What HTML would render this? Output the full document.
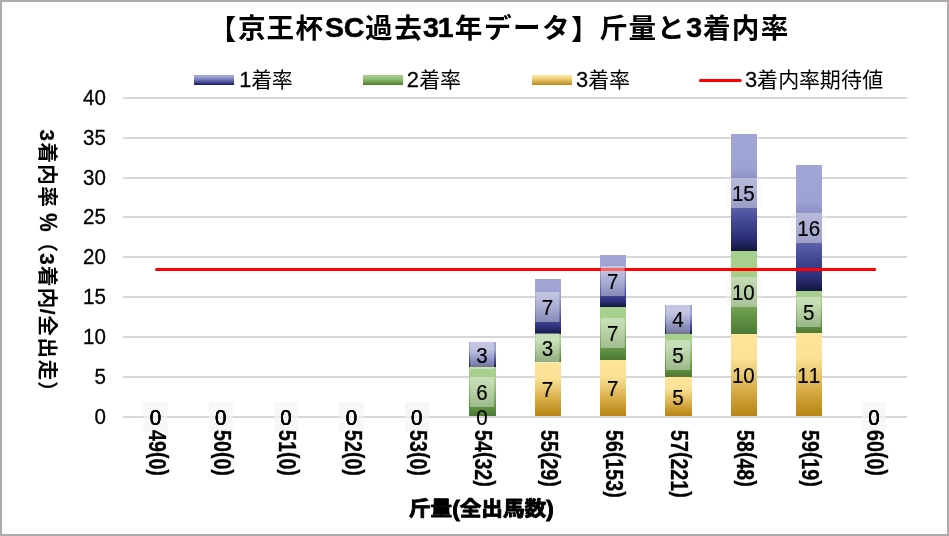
<!DOCTYPE html>
<html lang="ja"><head><meta charset="utf-8"><title>chart</title>
<style>
html,body{margin:0;padding:0;background:#fff;}
body{width:949px;height:536px;overflow:hidden;font-family:"Liberation Sans",sans-serif;}
svg{display:block;will-change:transform;font-family:"Liberation Sans","Noto Sans CJK JP",sans-serif;}
</style></head><body>
<svg width="949" height="536" viewBox="0 0 949 536">
<defs>
<linearGradient id="blue" x1="0" y1="0" x2="0" y2="1"><stop offset="0" stop-color="#a1a5d6"/><stop offset="0.28" stop-color="#9fa3d4"/><stop offset="0.5" stop-color="#787dbc"/><stop offset="0.7" stop-color="#4b509d"/><stop offset="0.88" stop-color="#2d317a"/><stop offset="1" stop-color="#14163e"/></linearGradient>
<linearGradient id="green" x1="0" y1="0" x2="0" y2="1"><stop offset="0" stop-color="#a9d18e"/><stop offset="0.27" stop-color="#a6cf8b"/><stop offset="0.5" stop-color="#8ab66c"/><stop offset="0.77" stop-color="#659647"/><stop offset="1" stop-color="#4c7a33"/></linearGradient>
<linearGradient id="gold" x1="0" y1="0" x2="0" y2="1"><stop offset="0" stop-color="#fee599"/><stop offset="0.3" stop-color="#fbe195"/><stop offset="0.5" stop-color="#e8c76f"/><stop offset="0.7" stop-color="#d7ab46"/><stop offset="0.85" stop-color="#c6962a"/><stop offset="1" stop-color="#b98614"/></linearGradient>
<linearGradient id="blueL" x1="0" y1="0" x2="0" y2="1"><stop offset="0" stop-color="#a3a6d7"/><stop offset="0.2" stop-color="#9da1d2"/><stop offset="0.5" stop-color="#6f73b3"/><stop offset="0.8" stop-color="#3c408f"/><stop offset="1" stop-color="#171a55"/></linearGradient>
<linearGradient id="greenL" x1="0" y1="0" x2="0" y2="1"><stop offset="0" stop-color="#a6cf8b"/><stop offset="0.2" stop-color="#a1ca86"/><stop offset="0.5" stop-color="#89b56b"/><stop offset="0.8" stop-color="#649545"/><stop offset="1" stop-color="#4b7930"/></linearGradient>
<linearGradient id="goldL" x1="0" y1="0" x2="0" y2="1"><stop offset="0" stop-color="#fde498"/><stop offset="0.15" stop-color="#fbe195"/><stop offset="0.5" stop-color="#e2bf65"/><stop offset="0.72" stop-color="#d2a745"/><stop offset="1" stop-color="#ba8712"/></linearGradient>
</defs>
<rect x="0" y="0" width="949" height="536" fill="#fff"/>
<rect x="123.06" y="97" width="783.91" height="2" fill="#d7d7d7"/>
<rect x="123.06" y="137" width="783.91" height="2" fill="#d7d7d7"/>
<rect x="123.06" y="177" width="783.91" height="2" fill="#d7d7d7"/>
<rect x="123.06" y="216" width="783.91" height="2" fill="#d7d7d7"/>
<rect x="123.06" y="256" width="783.91" height="2" fill="#d7d7d7"/>
<rect x="123.06" y="296" width="783.91" height="2" fill="#d7d7d7"/>
<rect x="123.06" y="336" width="783.91" height="2" fill="#d7d7d7"/>
<rect x="123.06" y="376" width="783.91" height="2" fill="#d7d7d7"/>
<rect x="123.06" y="416" width="783.91" height="2" fill="#d7d7d7"/>
<g transform="translate(105.80 105.00) scale(0.9600 1.0000)" fill="#000">
<text x="-23.80 -11.90" y="0.00" font-size="21.40" stroke="#000" stroke-width="0.30">40</text>
</g>
<g transform="translate(105.80 145.00) scale(0.9600 1.0000)" fill="#000">
<text x="-23.80 -11.90" y="0.00" font-size="21.40" stroke="#000" stroke-width="0.30">35</text>
</g>
<g transform="translate(105.80 185.00) scale(0.9600 1.0000)" fill="#000">
<text x="-23.80 -11.90" y="0.00" font-size="21.40" stroke="#000" stroke-width="0.30">30</text>
</g>
<g transform="translate(105.80 224.00) scale(0.9600 1.0000)" fill="#000">
<text x="-23.80 -11.90" y="0.00" font-size="21.40" stroke="#000" stroke-width="0.30">25</text>
</g>
<g transform="translate(105.80 264.00) scale(0.9600 1.0000)" fill="#000">
<text x="-23.80 -11.90" y="0.00" font-size="21.40" stroke="#000" stroke-width="0.30">20</text>
</g>
<g transform="translate(105.80 304.00) scale(0.9600 1.0000)" fill="#000">
<text x="-23.80 -11.90" y="0.00" font-size="21.40" stroke="#000" stroke-width="0.30">15</text>
</g>
<g transform="translate(105.80 344.00) scale(0.9600 1.0000)" fill="#000">
<text x="-23.80 -11.90" y="0.00" font-size="21.40" stroke="#000" stroke-width="0.30">10</text>
</g>
<g transform="translate(105.80 384.00) scale(0.9600 1.0000)" fill="#000">
<text x="-11.90" y="0.00" font-size="21.40" stroke="#000" stroke-width="0.30">5</text>
</g>
<g transform="translate(105.80 424.00) scale(0.9600 1.0000)" fill="#000">
<text x="-11.90" y="0.00" font-size="21.40" stroke="#000" stroke-width="0.30">0</text>
</g>
<rect x="469" y="367" width="27" height="49" fill="url(#green)"/>
<rect x="469" y="342" width="27" height="25" fill="url(#blue)"/>
<rect x="535" y="362" width="26" height="54" fill="url(#gold)"/>
<rect x="535" y="334" width="26" height="28" fill="url(#green)"/>
<rect x="535" y="279" width="26" height="55" fill="url(#blue)"/>
<rect x="600" y="360" width="26" height="56" fill="url(#gold)"/>
<rect x="600" y="307" width="26" height="53" fill="url(#green)"/>
<rect x="600" y="255" width="26" height="52" fill="url(#blue)"/>
<rect x="665" y="377" width="27" height="39" fill="url(#gold)"/>
<rect x="665" y="334" width="27" height="43" fill="url(#green)"/>
<rect x="665" y="305" width="27" height="29" fill="url(#blue)"/>
<rect x="731" y="334" width="26" height="82" fill="url(#gold)"/>
<rect x="731" y="251" width="26" height="83" fill="url(#green)"/>
<rect x="731" y="134" width="26" height="117" fill="url(#blue)"/>
<rect x="796" y="333" width="26" height="83" fill="url(#gold)"/>
<rect x="796" y="291" width="26" height="42" fill="url(#green)"/>
<rect x="796" y="165" width="26" height="126" fill="url(#blue)"/>
<line x1="156.52" y1="269.40" x2="874.61" y2="269.40" stroke="#ff0000" stroke-width="3" stroke-linecap="round"/>
<rect x="143.47" y="402.00" width="24.00" height="30.00" fill="#f2f2f2" fill-opacity="0.42"/>
<rect x="143.47" y="402.00" width="24.00" height="30.00" fill="#f2f2f2" fill-opacity="0.42"/>
<rect x="208.80" y="402.00" width="24.00" height="30.00" fill="#f2f2f2" fill-opacity="0.42"/>
<rect x="208.80" y="402.00" width="24.00" height="30.00" fill="#f2f2f2" fill-opacity="0.42"/>
<rect x="274.12" y="402.00" width="24.00" height="30.00" fill="#f2f2f2" fill-opacity="0.42"/>
<rect x="274.12" y="402.00" width="24.00" height="30.00" fill="#f2f2f2" fill-opacity="0.42"/>
<rect x="339.45" y="402.00" width="24.00" height="30.00" fill="#f2f2f2" fill-opacity="0.42"/>
<rect x="339.45" y="402.00" width="24.00" height="30.00" fill="#f2f2f2" fill-opacity="0.42"/>
<rect x="404.78" y="402.00" width="24.00" height="30.00" fill="#f2f2f2" fill-opacity="0.42"/>
<rect x="404.78" y="402.00" width="24.00" height="30.00" fill="#f2f2f2" fill-opacity="0.42"/>
<rect x="470.10" y="377.00" width="24.00" height="30.00" fill="#f2f2f2" fill-opacity="0.42"/>
<rect x="470.10" y="339.00" width="24.00" height="30.00" fill="#f2f2f2" fill-opacity="0.42"/>
<rect x="535.43" y="333.00" width="24.00" height="30.00" fill="#f2f2f2" fill-opacity="0.42"/>
<rect x="535.43" y="292.00" width="24.00" height="30.00" fill="#f2f2f2" fill-opacity="0.42"/>
<rect x="600.75" y="318.00" width="24.00" height="30.00" fill="#f2f2f2" fill-opacity="0.42"/>
<rect x="600.75" y="266.00" width="24.00" height="30.00" fill="#f2f2f2" fill-opacity="0.42"/>
<rect x="666.08" y="340.00" width="24.00" height="30.00" fill="#f2f2f2" fill-opacity="0.42"/>
<rect x="666.08" y="304.00" width="24.00" height="30.00" fill="#f2f2f2" fill-opacity="0.42"/>
<rect x="725.51" y="277.00" width="35.80" height="30.00" fill="#f2f2f2" fill-opacity="0.42"/>
<rect x="725.51" y="178.00" width="35.80" height="30.00" fill="#f2f2f2" fill-opacity="0.42"/>
<rect x="796.73" y="297.00" width="24.00" height="30.00" fill="#f2f2f2" fill-opacity="0.42"/>
<rect x="790.83" y="213.00" width="35.80" height="30.00" fill="#f2f2f2" fill-opacity="0.42"/>
<rect x="862.06" y="402.00" width="24.00" height="30.00" fill="#f2f2f2" fill-opacity="0.42"/>
<rect x="862.06" y="402.00" width="24.00" height="30.00" fill="#f2f2f2" fill-opacity="0.42"/>
<g transform="translate(155.42 424.80) scale(0.9600 1.0000)" fill="#000">
<text x="-5.95" y="0.00" font-size="21.40" stroke="#000" stroke-width="0.20">0</text>
</g>
<g transform="translate(155.42 424.80) scale(0.9600 1.0000)" fill="#000">
<text x="-5.95" y="0.00" font-size="21.40" stroke="#000" stroke-width="0.20">0</text>
</g>
<g transform="translate(155.42 424.80) scale(0.9600 1.0000)" fill="#000">
<text x="-5.95" y="0.00" font-size="21.40" stroke="#000" stroke-width="0.20">0</text>
</g>
<g transform="translate(220.75 424.80) scale(0.9600 1.0000)" fill="#000">
<text x="-5.95" y="0.00" font-size="21.40" stroke="#000" stroke-width="0.20">0</text>
</g>
<g transform="translate(220.75 424.80) scale(0.9600 1.0000)" fill="#000">
<text x="-5.95" y="0.00" font-size="21.40" stroke="#000" stroke-width="0.20">0</text>
</g>
<g transform="translate(220.75 424.80) scale(0.9600 1.0000)" fill="#000">
<text x="-5.95" y="0.00" font-size="21.40" stroke="#000" stroke-width="0.20">0</text>
</g>
<g transform="translate(286.07 424.80) scale(0.9600 1.0000)" fill="#000">
<text x="-5.95" y="0.00" font-size="21.40" stroke="#000" stroke-width="0.20">0</text>
</g>
<g transform="translate(286.07 424.80) scale(0.9600 1.0000)" fill="#000">
<text x="-5.95" y="0.00" font-size="21.40" stroke="#000" stroke-width="0.20">0</text>
</g>
<g transform="translate(286.07 424.80) scale(0.9600 1.0000)" fill="#000">
<text x="-5.95" y="0.00" font-size="21.40" stroke="#000" stroke-width="0.20">0</text>
</g>
<g transform="translate(351.40 424.80) scale(0.9600 1.0000)" fill="#000">
<text x="-5.95" y="0.00" font-size="21.40" stroke="#000" stroke-width="0.20">0</text>
</g>
<g transform="translate(351.40 424.80) scale(0.9600 1.0000)" fill="#000">
<text x="-5.95" y="0.00" font-size="21.40" stroke="#000" stroke-width="0.20">0</text>
</g>
<g transform="translate(351.40 424.80) scale(0.9600 1.0000)" fill="#000">
<text x="-5.95" y="0.00" font-size="21.40" stroke="#000" stroke-width="0.20">0</text>
</g>
<g transform="translate(416.73 424.80) scale(0.9600 1.0000)" fill="#000">
<text x="-5.95" y="0.00" font-size="21.40" stroke="#000" stroke-width="0.20">0</text>
</g>
<g transform="translate(416.73 424.80) scale(0.9600 1.0000)" fill="#000">
<text x="-5.95" y="0.00" font-size="21.40" stroke="#000" stroke-width="0.20">0</text>
</g>
<g transform="translate(416.73 424.80) scale(0.9600 1.0000)" fill="#000">
<text x="-5.95" y="0.00" font-size="21.40" stroke="#000" stroke-width="0.20">0</text>
</g>
<g transform="translate(482.05 424.80) scale(0.9600 1.0000)" fill="#000">
<text x="-5.95" y="0.00" font-size="21.40" stroke="#000" stroke-width="0.20">0</text>
</g>
<g transform="translate(482.05 399.88) scale(0.9600 1.0000)" fill="#000">
<text x="-5.95" y="0.00" font-size="21.40" stroke="#000" stroke-width="0.20">6</text>
</g>
<g transform="translate(482.05 362.50) scale(0.9600 1.0000)" fill="#000">
<text x="-5.95" y="0.00" font-size="21.40" stroke="#000" stroke-width="0.20">3</text>
</g>
<g transform="translate(547.38 397.30) scale(0.9600 1.0000)" fill="#000">
<text x="-5.95" y="0.00" font-size="21.40" stroke="#000" stroke-width="0.20">7</text>
</g>
<g transform="translate(547.38 356.05) scale(0.9600 1.0000)" fill="#000">
<text x="-5.95" y="0.00" font-size="21.40" stroke="#000" stroke-width="0.20">3</text>
</g>
<g transform="translate(547.38 314.80) scale(0.9600 1.0000)" fill="#000">
<text x="-5.95" y="0.00" font-size="21.40" stroke="#000" stroke-width="0.20">7</text>
</g>
<g transform="translate(612.70 396.13) scale(0.9600 1.0000)" fill="#000">
<text x="-5.95" y="0.00" font-size="21.40" stroke="#000" stroke-width="0.20">7</text>
</g>
<g transform="translate(612.70 341.40) scale(0.9600 1.0000)" fill="#000">
<text x="-5.95" y="0.00" font-size="21.40" stroke="#000" stroke-width="0.20">7</text>
</g>
<g transform="translate(612.70 289.28) scale(0.9600 1.0000)" fill="#000">
<text x="-5.95" y="0.00" font-size="21.40" stroke="#000" stroke-width="0.20">7</text>
</g>
<g transform="translate(678.03 404.95) scale(0.9600 1.0000)" fill="#000">
<text x="-5.95" y="0.00" font-size="21.40" stroke="#000" stroke-width="0.20">5</text>
</g>
<g transform="translate(678.03 363.45) scale(0.9600 1.0000)" fill="#000">
<text x="-5.95" y="0.00" font-size="21.40" stroke="#000" stroke-width="0.20">5</text>
</g>
<g transform="translate(678.03 327.37) scale(0.9600 1.0000)" fill="#000">
<text x="-5.95" y="0.00" font-size="21.40" stroke="#000" stroke-width="0.20">4</text>
</g>
<g transform="translate(743.36 383.26) scale(0.9600 1.0000)" fill="#000">
<text x="-11.90 0.00" y="0.00" font-size="21.40" stroke="#000" stroke-width="0.20">10</text>
</g>
<g transform="translate(743.36 300.19) scale(0.9600 1.0000)" fill="#000">
<text x="-11.90 0.00" y="0.00" font-size="21.40" stroke="#000" stroke-width="0.20">10</text>
</g>
<g transform="translate(743.36 200.50) scale(0.9600 1.0000)" fill="#000">
<text x="-11.90 0.00" y="0.00" font-size="21.40" stroke="#000" stroke-width="0.20">15</text>
</g>
<g transform="translate(808.68 382.83) scale(0.9600 1.0000)" fill="#000">
<text x="-11.90 0.00" y="0.00" font-size="21.40" stroke="#000" stroke-width="0.20">11</text>
</g>
<g transform="translate(808.68 319.87) scale(0.9600 1.0000)" fill="#000">
<text x="-5.95" y="0.00" font-size="21.40" stroke="#000" stroke-width="0.20">5</text>
</g>
<g transform="translate(808.68 235.92) scale(0.9600 1.0000)" fill="#000">
<text x="-11.90 0.00" y="0.00" font-size="21.40" stroke="#000" stroke-width="0.20">16</text>
</g>
<g transform="translate(874.01 424.80) scale(0.9600 1.0000)" fill="#000">
<text x="-5.95" y="0.00" font-size="21.40" stroke="#000" stroke-width="0.20">0</text>
</g>
<g transform="translate(874.01 424.80) scale(0.9600 1.0000)" fill="#000">
<text x="-5.95" y="0.00" font-size="21.40" stroke="#000" stroke-width="0.20">0</text>
</g>
<g transform="translate(874.01 424.80) scale(0.9600 1.0000)" fill="#000">
<text x="-5.95" y="0.00" font-size="21.40" stroke="#000" stroke-width="0.20">0</text>
</g>
<g transform="translate(148.82 430.10) rotate(90) scale(1.0000 1.2000)" fill="#000">
<text x="0.00 10.90 28.33" y="0.00" font-size="19.60" font-weight="bold" stroke="#000" stroke-width="0.25">490</text>
<text x="21.80 39.23" y="-1.90" font-size="19.60" font-weight="bold" stroke="#000" stroke-width="0.25">()</text>
</g>
<g transform="translate(214.15 430.10) rotate(90) scale(1.0000 1.2000)" fill="#000">
<text x="0.00 10.90 28.33" y="0.00" font-size="19.60" font-weight="bold" stroke="#000" stroke-width="0.25">500</text>
<text x="21.80 39.23" y="-1.90" font-size="19.60" font-weight="bold" stroke="#000" stroke-width="0.25">()</text>
</g>
<g transform="translate(279.47 430.10) rotate(90) scale(1.0000 1.2000)" fill="#000">
<text x="0.00 10.90 28.33" y="0.00" font-size="19.60" font-weight="bold" stroke="#000" stroke-width="0.25">510</text>
<text x="21.80 39.23" y="-1.90" font-size="19.60" font-weight="bold" stroke="#000" stroke-width="0.25">()</text>
</g>
<g transform="translate(344.80 430.10) rotate(90) scale(1.0000 1.2000)" fill="#000">
<text x="0.00 10.90 28.33" y="0.00" font-size="19.60" font-weight="bold" stroke="#000" stroke-width="0.25">520</text>
<text x="21.80 39.23" y="-1.90" font-size="19.60" font-weight="bold" stroke="#000" stroke-width="0.25">()</text>
</g>
<g transform="translate(410.13 430.10) rotate(90) scale(1.0000 1.2000)" fill="#000">
<text x="0.00 10.90 28.33" y="0.00" font-size="19.60" font-weight="bold" stroke="#000" stroke-width="0.25">530</text>
<text x="21.80 39.23" y="-1.90" font-size="19.60" font-weight="bold" stroke="#000" stroke-width="0.25">()</text>
</g>
<g transform="translate(475.45 430.10) rotate(90) scale(1.0000 1.2000)" fill="#000">
<text x="0.00 10.90 28.33 39.23" y="0.00" font-size="19.60" font-weight="bold" stroke="#000" stroke-width="0.25">5432</text>
<text x="21.80 50.13" y="-1.90" font-size="19.60" font-weight="bold" stroke="#000" stroke-width="0.25">()</text>
</g>
<g transform="translate(540.78 430.10) rotate(90) scale(1.0000 1.2000)" fill="#000">
<text x="0.00 10.90 28.33 39.23" y="0.00" font-size="19.60" font-weight="bold" stroke="#000" stroke-width="0.25">5529</text>
<text x="21.80 50.13" y="-1.90" font-size="19.60" font-weight="bold" stroke="#000" stroke-width="0.25">()</text>
</g>
<g transform="translate(606.10 430.10) rotate(90) scale(1.0000 1.2000)" fill="#000">
<text x="0.00 10.90 28.33 39.23 50.13" y="0.00" font-size="19.60" font-weight="bold" stroke="#000" stroke-width="0.25">56153</text>
<text x="21.80 61.03" y="-1.90" font-size="19.60" font-weight="bold" stroke="#000" stroke-width="0.25">()</text>
</g>
<g transform="translate(671.43 430.10) rotate(90) scale(1.0000 1.2000)" fill="#000">
<text x="0.00 10.90 28.33 39.23 50.13" y="0.00" font-size="19.60" font-weight="bold" stroke="#000" stroke-width="0.25">57221</text>
<text x="21.80 61.03" y="-1.90" font-size="19.60" font-weight="bold" stroke="#000" stroke-width="0.25">()</text>
</g>
<g transform="translate(736.76 430.10) rotate(90) scale(1.0000 1.2000)" fill="#000">
<text x="0.00 10.90 28.33 39.23" y="0.00" font-size="19.60" font-weight="bold" stroke="#000" stroke-width="0.25">5848</text>
<text x="21.80 50.13" y="-1.90" font-size="19.60" font-weight="bold" stroke="#000" stroke-width="0.25">()</text>
</g>
<g transform="translate(802.08 430.10) rotate(90) scale(1.0000 1.2000)" fill="#000">
<text x="0.00 10.90 28.33 39.23" y="0.00" font-size="19.60" font-weight="bold" stroke="#000" stroke-width="0.25">5919</text>
<text x="21.80 50.13" y="-1.90" font-size="19.60" font-weight="bold" stroke="#000" stroke-width="0.25">()</text>
</g>
<g transform="translate(867.41 430.10) rotate(90) scale(1.0000 1.2000)" fill="#000">
<text x="0.00 10.90 28.33" y="0.00" font-size="19.60" font-weight="bold" stroke="#000" stroke-width="0.25">600</text>
<text x="21.80 39.23" y="-1.90" font-size="19.60" font-weight="bold" stroke="#000" stroke-width="0.25">()</text>
</g>
<rect x="194.00" y="75" width="40" height="10" fill="url(#blueL)"/>
<g transform="translate(0.00 87.20)" fill="#000">
<text transform="scale(1.0300 1)" x="232.35" y="0.00" font-size="21.30" stroke="#000" stroke-width="0.25">1</text>
<text x="251.29 271.86" y="-0.30" font-size="21" font-family="'Liberation Sans','Noto Sans CJK JP',sans-serif">着率</text>
</g>
<rect x="363.00" y="75" width="40" height="10" fill="url(#greenL)"/>
<g transform="translate(0.00 87.20)" fill="#000">
<text transform="scale(1.0300 1)" x="395.00" y="0.00" font-size="21.30" stroke="#000" stroke-width="0.25">2</text>
<text x="419.24 439.91" y="-0.30" font-size="21" font-family="'Liberation Sans','Noto Sans CJK JP',sans-serif">着率</text>
</g>
<rect x="532.00" y="75" width="40" height="10" fill="url(#goldL)"/>
<g transform="translate(0.00 87.20)" fill="#000">
<text transform="scale(1.0300 1)" x="559.14" y="0.00" font-size="21.30" stroke="#000" stroke-width="0.25">3</text>
<text x="588.19 608.91" y="-0.30" font-size="21" font-family="'Liberation Sans','Noto Sans CJK JP',sans-serif">着率</text>
</g>
<line x1="700.4" y1="80.4" x2="740.2" y2="80.4" stroke="#ff0000" stroke-width="3" stroke-linecap="round"/>
<g transform="translate(0.00 87.20)" fill="#000">
<text transform="scale(1.0300 1)" x="723.31" y="0.00" font-size="21.30" stroke="#000" stroke-width="0.25">3</text>
<text x="756.94 778.28 798.91 819.72 840.88 862.35" y="-0.30" font-size="21" font-family="'Liberation Sans','Noto Sans CJK JP',sans-serif">着内率期待値</text>
</g>
<g transform="translate(0.00 37.70)" fill="#000">
<text x="324.89 343.66 422.91 437.64 686.36" y="-1.00" font-size="28.50" font-weight="bold" stroke="#000" stroke-width="0.50">SC313</text>
<text x="208.68 571.02" y="0.90" font-size="27.6" font-weight="bold" font-family="'Liberation Sans','Noto Sans CJK JP',sans-serif">【】</text>
<text x="237.99 266.51 295.47 364.95 394.34 454.79 483.97 513.11 542.02 599.86 628.56 657.00 703.07 731.79 760.68" y="0.00" font-size="27.6" font-weight="bold" font-family="'Liberation Sans','Noto Sans CJK JP',sans-serif">京王杯過去年データ斤量と着内率</text>
</g>
<g transform="translate(481.30 516.00) scale(1.0500 1.0000)" fill="#000">
<text x="-27.76 61.80" y="0.00" font-size="21.50" font-weight="bold" stroke="#000" stroke-width="0.90">()</text>
<text x="-68.96 -48.36 -20.60 0.00 20.60 41.20" y="0.00" font-size="20.6" font-weight="bold" stroke="#000" stroke-width="0.9" stroke-linejoin="round" font-family="'Liberation Sans','Noto Sans CJK JP',sans-serif">斤量全出馬数</text>
</g>
<g transform="translate(39.80 0.00) rotate(90)" fill="#000">
<text x="129.61 253.21 308.64" y="0.00" font-size="20.60" font-weight="bold" stroke="#000" stroke-width="0.30">33/</text>
<text transform="translate(213.16 0.00) scale(1 1.200)" font-size="20.60" font-weight="bold" stroke="#000" stroke-width="0.30">%</text>
<text x="142.19 164.26 186.16 231.55 265.79 287.86 315.37 337.55 359.46 380.95" y="0.00" font-size="20.6" font-weight="bold" font-family="'Liberation Sans','Noto Sans CJK JP',sans-serif">着内率（着内全出走）</text>
</g>
<path d="M0 0H949V536H0Z M2 2V534H947V2Z" fill="#afabab" fill-rule="evenodd"/>
</svg>
</body></html>
